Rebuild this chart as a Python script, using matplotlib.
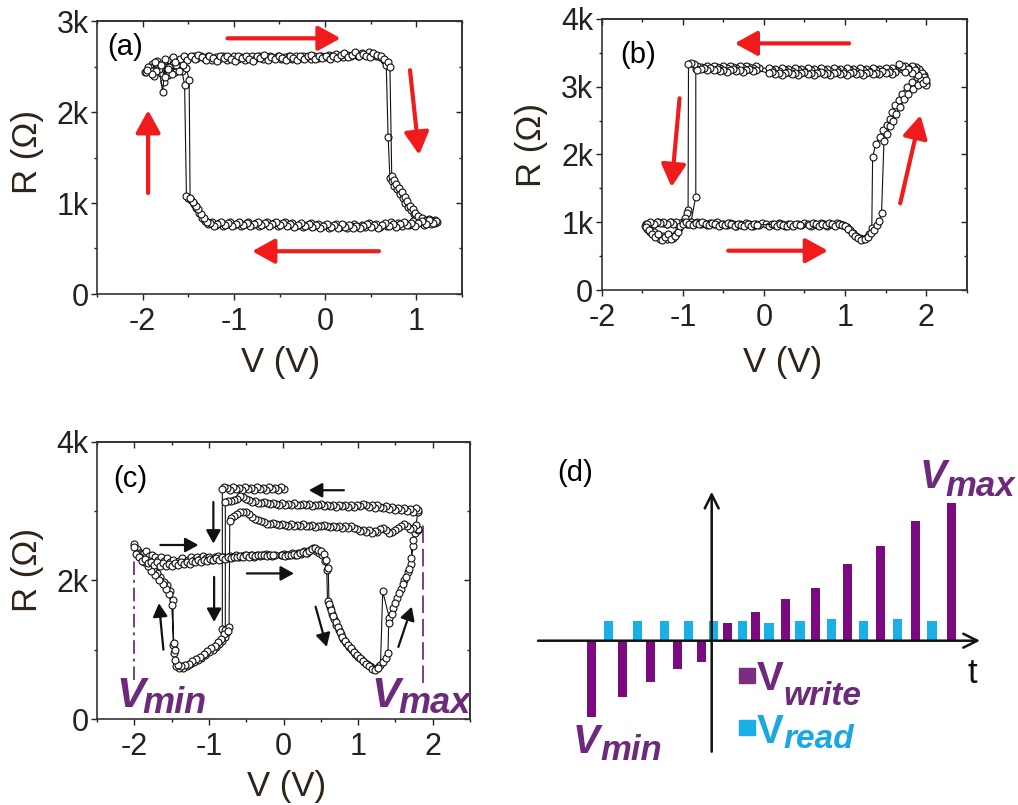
import numpy as np
import matplotlib
matplotlib.use("Agg")
import matplotlib.pyplot as plt
from matplotlib.ticker import MultipleLocator
from matplotlib.patches import Rectangle

W, H = 1018, 805
plt.rcParams['font.family'] = ['Liberation Sans', 'DejaVu Sans']

# ---------------- panel (a) data: V (V), R (kOhm) ----------------
a_cycle1 = [(-1.97,2.44),(-1.93,2.47),(-1.90,2.53),(-1.87,2.40),(-1.84,2.56),(-1.80,2.49),(-1.77,2.33),(-1.74,2.52),
 (-1.70,2.57),(-1.67,2.47),(-1.64,2.53),(-1.60,2.56),(-1.56,2.55),(-1.52,2.58),(-1.48,2.60),(-1.44,2.62),(-1.40,2.59),
 (-1.36,2.61),(-1.32,2.58),(-1.28,2.61),(-1.24,2.57),(-1.20,2.60),(-1.16,2.58),(-1.12,2.61),(-1.08,2.57),(-1.04,2.59),
 (-1.00,2.61),(-0.96,2.58),(-0.92,2.60),(-0.88,2.57),(-0.84,2.60),(-0.80,2.62),(-0.76,2.59),(-0.72,2.61),(-0.68,2.58),
 (-0.64,2.60),(-0.60,2.62),(-0.56,2.59),(-0.52,2.61),(-0.48,2.58),(-0.44,2.60),(-0.40,2.62),(-0.36,2.58),(-0.32,2.61),
 (-0.28,2.59),(-0.24,2.62),(-0.20,2.60),(-0.16,2.58),(-0.12,2.61),(-0.08,2.59),(-0.04,2.62),(0.00,2.60),(0.04,2.63),
 (0.08,2.61),(0.12,2.64),(0.16,2.62),(0.20,2.60),(0.24,2.63),(0.28,2.61),(0.32,2.64),(0.36,2.62),(0.40,2.65),(0.44,2.63),
 (0.48,2.66),(0.52,2.64),(0.56,2.62),(0.60,2.60),(0.64,2.57),(0.67,2.52),
 (0.69,1.73),(0.71,1.28),(0.73,1.24),(0.76,1.19),(0.79,1.15),(0.82,1.10),(0.85,1.05),(0.88,1.00),(0.91,0.96),(0.94,0.92),
 (0.97,0.88),(1.00,0.85),(1.04,0.82),(1.08,0.80),(1.12,0.79),(1.16,0.80),(1.20,0.78),(1.23,0.79),
 (1.20,0.81),(1.16,0.77),(1.12,0.80),(1.08,0.76),(1.04,0.79),(1.00,0.77),(0.96,0.80),(0.92,0.76),(0.88,0.78),(0.84,0.75),
 (0.80,0.78),(0.76,0.76),(0.72,0.79),(0.68,0.75),(0.64,0.77),(0.60,0.74),(0.56,0.77),(0.52,0.75),(0.48,0.78),(0.44,0.74),
 (0.40,0.76),(0.36,0.74),(0.32,0.77),(0.28,0.75),(0.24,0.73),(0.20,0.76),(0.16,0.74),(0.12,0.77),(0.08,0.75),(0.04,0.73),
 (0.00,0.76),(-0.04,0.74),(-0.08,0.77),(-0.12,0.75),(-0.16,0.78),(-0.20,0.76),(-0.24,0.74),(-0.28,0.77),(-0.32,0.75),
 (-0.36,0.78),(-0.40,0.76),(-0.44,0.79),(-0.48,0.77),(-0.52,0.75),(-0.56,0.78),(-0.60,0.76),(-0.64,0.79),(-0.68,0.77),
 (-0.72,0.75),(-0.76,0.78),(-0.80,0.76),(-0.84,0.79),(-0.88,0.77),(-0.92,0.75),(-0.96,0.78),(-1.00,0.76),(-1.04,0.79),
 (-1.08,0.77),(-1.12,0.75),(-1.16,0.78),(-1.20,0.76),(-1.24,0.79),(-1.28,0.77),(-1.32,0.80),
 (-1.35,0.84),(-1.38,0.89),(-1.41,0.94),(-1.44,0.99),(-1.47,1.03),(-1.50,1.06),(-1.52,1.08),
 (-1.54,2.30),(-1.57,2.45),(-1.60,2.50),(-1.64,2.44),(-1.68,2.52),(-1.72,2.41),(-1.76,2.50),(-1.80,2.43),(-1.84,2.53),
 (-1.88,2.46),(-1.92,2.50),(-1.96,2.44)]
a_cycle2 = [(-1.94,2.50),(-1.90,2.45),(-1.86,2.55),(-1.82,2.47),(-1.78,2.22),(-1.75,2.58),(-1.71,2.50),(-1.67,2.60),
 (-1.63,2.52),(-1.59,2.58),(-1.55,2.62),(-1.51,2.57),(-1.47,2.61),(-1.43,2.58),(-1.39,2.63),(-1.35,2.60),(-1.31,2.57),
 (-1.27,2.62),(-1.23,2.59),(-1.19,2.56),(-1.15,2.61),(-1.11,2.59),(-1.07,2.62),(-1.03,2.58),(-0.99,2.56),(-0.95,2.61),
 (-0.91,2.59),(-0.87,2.62),(-0.83,2.58),(-0.79,2.56),(-0.75,2.61),(-0.71,2.59),(-0.67,2.63),(-0.63,2.57),(-0.59,2.60),
 (-0.55,2.58),(-0.51,2.62),(-0.47,2.59),(-0.43,2.57),(-0.39,2.61),(-0.35,2.59),(-0.31,2.57),(-0.27,2.62),(-0.23,2.58),
 (-0.19,2.61),(-0.15,2.63),(-0.11,2.58),(-0.07,2.61),(-0.03,2.59),(0.01,2.62),(0.05,2.58),(0.09,2.62),(0.13,2.59),
 (0.17,2.63),(0.21,2.65),(0.25,2.60),(0.29,2.63),(0.33,2.66),(0.37,2.61),(0.41,2.64),(0.45,2.62),(0.49,2.60),(0.53,2.65),
 (0.57,2.63),(0.61,2.61),(0.65,2.58),(0.69,2.55),(0.71,2.50),
 (0.73,1.30),(0.75,1.25),(0.78,1.21),(0.81,1.17),(0.84,1.12),(0.87,1.07),(0.90,1.02),(0.93,0.97),(0.96,0.93),(0.99,0.89),
 (1.02,0.86),(1.06,0.83),(1.10,0.81),(1.14,0.82),(1.18,0.80),(1.22,0.80),
 (1.18,0.78),(1.14,0.81),(1.10,0.77),(1.06,0.80),(1.02,0.78),(0.98,0.75),(0.94,0.78),(0.90,0.76),(0.86,0.79),(0.82,0.77),
 (0.78,0.74),(0.74,0.77),(0.70,0.75),(0.66,0.78),(0.62,0.76),(0.58,0.73),(0.54,0.76),(0.50,0.74),(0.46,0.77),(0.42,0.75),
 (0.38,0.72),(0.34,0.75),(0.30,0.73),(0.26,0.76),(0.22,0.74),(0.18,0.77),(0.14,0.73),(0.10,0.76),(0.06,0.74),(0.02,0.77),
 (-0.02,0.75),(-0.06,0.73),(-0.10,0.76),(-0.14,0.74),(-0.18,0.77),(-0.22,0.75),(-0.26,0.78),(-0.30,0.76),(-0.34,0.74),
 (-0.38,0.77),(-0.42,0.75),(-0.46,0.78),(-0.50,0.76),(-0.54,0.79),(-0.58,0.77),(-0.62,0.75),(-0.66,0.78),(-0.70,0.76),
 (-0.74,0.79),(-0.78,0.77),(-0.82,0.75),(-0.86,0.78),(-0.90,0.76),(-0.94,0.79),(-0.98,0.77),(-1.02,0.75),(-1.06,0.78),
 (-1.10,0.76),(-1.14,0.79),(-1.18,0.77),(-1.22,0.75),(-1.26,0.78),
 (-1.30,0.79),(-1.33,0.83),(-1.36,0.88),(-1.39,0.93),(-1.42,0.97),(-1.45,1.01),(-1.48,1.06),
 (-1.49,2.35),(-1.52,2.48),(-1.56,2.52),(-1.60,2.45),(-1.64,2.55),(-1.68,2.42),(-1.72,2.47),(-1.76,2.38),(-1.80,2.52),
 (-1.85,2.45),(-1.90,2.42),(-1.95,2.46)]

# ---------------- panel (b) data ----------------
b_cycle1 = [(2.00,3.05),(1.99,3.12),(1.97,3.18),(1.94,3.22),(1.91,3.26),(1.88,3.29),(1.85,3.27),(1.82,3.31),(1.78,3.28),
 (1.74,3.30),(1.70,3.26),(1.66,3.29),(1.62,3.25),(1.58,3.28),(1.54,3.24),(1.50,3.27),(1.46,3.23),(1.42,3.26),(1.38,3.24),
 (1.34,3.27),(1.30,3.23),(1.26,3.26),(1.22,3.24),(1.18,3.27),(1.14,3.23),(1.10,3.26),(1.06,3.24),(1.02,3.27),(0.98,3.23),
 (0.94,3.26),(0.90,3.24),(0.86,3.27),(0.82,3.23),(0.78,3.26),(0.74,3.24),(0.70,3.27),(0.66,3.23),(0.62,3.26),(0.58,3.24),
 (0.54,3.27),(0.50,3.23),(0.46,3.26),(0.42,3.24),(0.38,3.27),(0.34,3.23),(0.30,3.26),(0.26,3.24),(0.22,3.27),(0.18,3.23),
 (0.14,3.26),(0.10,3.24),(0.06,3.27),(-0.06,3.28),(-0.10,3.30),(-0.14,3.27),(-0.18,3.29),(-0.22,3.31),(-0.26,3.28),
 (-0.30,3.30),(-0.34,3.27),(-0.38,3.29),(-0.42,3.31),(-0.46,3.28),(-0.50,3.30),(-0.54,3.27),(-0.58,3.29),(-0.62,3.31),
 (-0.66,3.28),(-0.70,3.30),(-0.74,3.27),(-0.78,3.29),(-0.82,3.31),(-0.84,3.26),
 (-0.84,1.38),(-0.90,1.00),(-0.95,0.98),(-1.00,1.00),(-1.05,0.97),(-1.10,0.99),(-1.15,1.00),(-1.20,0.97),(-1.25,0.99),
 (-1.30,1.00),(-1.35,0.97),(-1.40,0.99),(-1.45,0.98),(-1.47,0.95),(-1.44,0.90),(-1.40,0.85),(-1.36,0.86),(-1.32,0.80),
 (-1.28,0.76),(-1.24,0.79),(-1.20,0.75),(-1.16,0.80),(-1.12,0.77),(-1.08,0.83),(-1.05,0.92),(-1.02,0.99),
 (-0.98,1.00),(-0.94,0.97),(-0.90,1.00),(-0.86,0.98),(-0.82,1.01),(-0.78,0.97),(-0.74,0.99),(-0.70,0.96),(-0.66,0.99),
 (-0.62,0.97),(-0.58,1.00),(-0.54,0.96),(-0.50,0.98),(-0.46,0.96),(-0.42,0.99),(-0.38,0.97),(-0.34,0.95),(-0.30,0.98),
 (-0.26,0.96),(-0.22,0.99),(-0.18,0.97),(-0.14,0.95),(-0.10,0.98),(-0.06,0.96),(-0.02,0.99),(0.02,0.97),(0.06,0.95),
 (0.10,0.98),(0.14,0.96),(0.18,0.99),(0.22,0.97),(0.26,0.95),(0.30,0.98),(0.34,0.96),(0.42,0.98),(0.46,0.96),(0.50,0.99),
 (0.54,0.97),(0.58,0.95),(0.62,0.98),(0.66,0.96),(0.70,0.99),(0.74,0.97),(0.78,0.95),(0.82,0.98),(0.86,0.96),(0.90,0.99),
 (0.94,0.97),(0.98,0.96),(1.02,0.93),(1.06,0.88),(1.10,0.84),(1.14,0.80),(1.18,0.77),(1.22,0.75),(1.26,0.77),(1.30,0.82),
 (1.33,0.92),
 (1.34,1.96),(1.38,2.16),(1.43,2.26),(1.47,2.36),(1.52,2.43),(1.56,2.53),(1.58,2.63),(1.61,2.73),(1.66,2.80),(1.70,2.90),
 (1.76,3.00),(1.82,3.07),(1.89,3.15),(1.95,3.20),(1.99,3.10),(2.00,3.02)]
b_cycle2 = [(1.97,3.15),(1.94,3.10),(1.90,3.18),(1.86,3.24),(1.82,3.20),(1.78,3.26),(1.74,3.22),(1.70,3.31),(1.66,3.34),
 (1.62,3.22),(1.58,3.19),(1.54,3.22),(1.50,3.20),(1.46,3.23),(1.42,3.19),(1.38,3.21),(1.34,3.19),(1.30,3.22),(1.26,3.20),
 (1.22,3.18),(1.18,3.21),(1.14,3.19),(1.10,3.22),(1.06,3.20),(1.02,3.18),(0.98,3.21),(0.94,3.19),(0.90,3.22),(0.86,3.20),
 (0.82,3.18),(0.78,3.21),(0.74,3.19),(0.70,3.22),(0.66,3.20),(0.62,3.18),(0.58,3.21),(0.54,3.19),(0.50,3.22),(0.46,3.20),
 (0.42,3.18),(0.38,3.21),(0.34,3.19),(0.30,3.22),(0.26,3.20),(0.22,3.18),(0.18,3.21),(0.14,3.19),(0.10,3.22),(0.06,3.20),
 (-0.10,3.25),(-0.14,3.23),(-0.18,3.26),(-0.22,3.24),(-0.26,3.22),(-0.30,3.25),(-0.34,3.23),(-0.38,3.26),(-0.42,3.24),
 (-0.46,3.22),(-0.50,3.25),(-0.54,3.23),(-0.58,3.26),(-0.62,3.24),(-0.66,3.27),(-0.70,3.25),(-0.74,3.28),(-0.78,3.26),
 (-0.82,3.25),(-0.86,3.33),(-0.90,3.35),(-0.93,3.34),
 (-0.935,1.18),(-0.95,1.13),(-0.97,1.06),(-1.00,1.01),(-1.04,0.99),(-1.08,1.01),(-1.12,0.98),(-1.16,1.00),(-1.20,0.98),
 (-1.24,1.01),(-1.28,0.99),(-1.32,1.01),(-1.36,0.98),(-1.40,1.00),(-1.44,0.98),(-1.46,0.93),(-1.42,0.88),(-1.38,0.82),
 (-1.34,0.78),(-1.30,0.82),(-1.26,0.74),(-1.22,0.78),(-1.18,0.82),(-1.14,0.76),(-1.10,0.80),(-1.06,0.86),(-1.03,0.95),
 (-1.00,0.98),(-0.96,1.00),(-0.92,0.98),(-0.88,0.96),(-0.84,0.99),(-0.80,0.97),(-0.76,1.00),(-0.72,0.98),(-0.68,0.96),
 (-0.64,0.99),(-0.60,0.97),(-0.56,0.95),(-0.52,0.98),(-0.48,0.96),(-0.44,0.99),(-0.40,0.97),(-0.36,0.95),(-0.32,0.98),
 (-0.28,0.96),(-0.24,0.94),(-0.20,0.97),(-0.16,0.95),(-0.12,0.98),(-0.08,0.96),(0.12,0.97),(0.16,0.95),(0.20,0.98),
 (0.24,0.96),(0.28,0.94),(0.32,0.97),(0.36,0.95),(0.40,0.98),(0.44,0.96),(0.56,0.96),(0.60,0.99),(0.64,0.97),(0.68,0.95),
 (0.72,0.98),(0.76,0.96),(0.80,0.99),(0.84,0.97),(0.88,0.95),(0.92,0.98),(0.96,0.96),(1.00,0.94),(1.04,0.90),(1.08,0.84),
 (1.12,0.80),(1.16,0.77),(1.20,0.74),(1.24,0.75),(1.28,0.78),(1.32,0.84),(1.36,0.89),(1.39,0.96),(1.42,1.02),(1.45,1.13),
 (1.48,2.20),(1.52,2.30),(1.55,2.42),(1.59,2.50),(1.63,2.60),(1.68,2.70),(1.73,2.82),(1.78,2.90),(1.84,2.96),(1.90,3.02),
 (1.96,3.06),(2.00,3.10)]

# ---------------- panel (c) data ----------------
c_top1 = [(0.00,3.32),(-0.04,3.34),(-0.08,3.31),(-0.12,3.33),(-0.16,3.32),(-0.20,3.34),(-0.24,3.31),(-0.28,3.33),
 (-0.32,3.32),(-0.36,3.34),(-0.40,3.31),(-0.44,3.33),(-0.48,3.32),(-0.52,3.34),(-0.56,3.31),(-0.60,3.33),(-0.64,3.32),
 (-0.68,3.34),(-0.72,3.31),(-0.76,3.33),(-0.80,3.34),(-0.82,3.32)]
c_downL1 = [(-0.82,1.30),(-0.76,1.25),(-0.78,1.18),(-0.82,1.13),(-0.86,1.08),(-0.90,1.04),(-0.95,1.00),(-1.00,0.96),
 (-1.05,0.92),(-1.10,0.88),(-1.15,0.85),(-1.20,0.82),(-1.25,0.79),(-1.30,0.76),(-1.35,0.74),(-1.40,0.73),(-1.44,0.77),
 (-1.47,0.95),(-1.48,1.07)]
c_upL1 = [(-1.48,1.72),(-1.52,1.85),(-1.56,1.93),(-1.60,1.98),(-1.65,2.05),(-1.70,2.10),(-1.75,2.16),(-1.80,2.22),
 (-1.85,2.29),(-1.90,2.35),(-1.95,2.42),(-2.00,2.52)]
c_mid1 = [(-1.96,2.45),(-1.92,2.40),(-1.88,2.38),(-1.84,2.42),(-1.80,2.35),(-1.76,2.37),(-1.72,2.33),(-1.68,2.30),
 (-1.64,2.34),(-1.60,2.28),(-1.56,2.32),(-1.52,2.26),(-1.48,2.30),(-1.44,2.24),(-1.40,2.28),(-1.36,2.32),(-1.32,2.26),
 (-1.28,2.30),(-1.24,2.34),(-1.20,2.29),(-1.16,2.33),(-1.12,2.31),(-1.08,2.35),(-1.04,2.32),(-1.00,2.34),(-0.96,2.30),
 (-0.92,2.33),(-0.88,2.35),(-0.84,2.31),(-0.80,2.34),(-0.76,2.32),(-0.72,2.35),(-0.68,2.33),(-0.64,2.36),(-0.60,2.34),
 (-0.56,2.35),(-0.52,2.37),(-0.48,2.35),(-0.44,2.36),(-0.40,2.34),(-0.36,2.37),(-0.32,2.35),(-0.28,2.36),(-0.24,2.38),
 (-0.20,2.36),(-0.16,2.35),(-0.12,2.37),(-0.04,2.36),(0.00,2.38),(0.04,2.36),(0.08,2.37),(0.12,2.39),(0.16,2.37),
 (0.20,2.40),(0.24,2.38),(0.28,2.42),(0.32,2.40),(0.36,2.44),(0.40,2.46),(0.44,2.43),(0.48,2.40),(0.52,2.36),(0.55,2.28),
 (0.58,2.15)]
c_downR1 = [(0.59,1.70),(0.62,1.62),(0.65,1.52),(0.68,1.44),(0.71,1.36),(0.74,1.29),(0.77,1.22),(0.80,1.16),(0.84,1.10),
 (0.88,1.04),(0.92,0.99),(0.96,0.94),(1.00,0.90),(1.04,0.86),(1.08,0.82),(1.12,0.79),(1.16,0.76),(1.20,0.74),(1.24,0.72),
 (1.28,0.76)]
c_upR1 = [(1.30,0.78),(1.33,1.84),(1.42,1.45),(1.47,1.60),(1.52,1.74),(1.57,1.87),(1.62,2.00),(1.67,2.12),(1.71,2.24),
 (1.73,2.50),(1.76,2.68),(1.80,2.98)]
c_top2 = [(1.80,3.02),(1.77,3.05),(1.74,2.99),(1.70,3.03),(1.66,3.00),(1.62,3.04),(1.58,3.01),(1.54,3.05),(1.50,3.02),
 (1.46,3.06),(1.42,3.03),(1.38,3.07),(1.34,3.04),(1.30,3.06),(1.26,3.08),(1.22,3.05),(1.18,3.09),(1.14,3.06),(1.10,3.08),
 (1.06,3.10),(1.02,3.07),(0.98,3.09),(0.94,3.06),(0.90,3.08),(0.86,3.06),(0.82,3.09),(0.78,3.07),(0.74,3.09),(0.70,3.06),
 (0.66,3.08),(0.62,3.07),(0.58,3.09),(0.54,3.07),(0.50,3.10),(0.46,3.08),(0.42,3.09),(0.38,3.07),(0.34,3.10),(0.30,3.08),
 (0.26,3.10),(0.22,3.08),(0.18,3.09),(0.14,3.11),(0.10,3.09),(0.06,3.10),(0.02,3.08),(-0.02,3.11),(-0.06,3.09),
 (-0.10,3.10),(-0.14,3.12),(-0.18,3.10),(-0.22,3.11),(-0.26,3.13),(-0.30,3.11),(-0.34,3.12),(-0.38,3.14),(-0.42,3.13),
 (-0.46,3.16),(-0.50,3.18),(-0.54,3.20),(-0.58,3.21),(-0.62,3.18),(-0.66,3.16),(-0.70,3.14),(-0.74,3.15),(-0.78,3.13)]
c_downL2 = [(-0.78,1.28),(-0.80,1.22),(-0.84,1.16),(-0.88,1.11),(-0.92,1.06),(-0.97,1.02),(-1.02,0.98),(-1.07,0.94),
 (-1.12,0.90),(-1.17,0.86),(-1.22,0.83),(-1.27,0.80),(-1.32,0.78),(-1.37,0.76),(-1.42,0.78),(-1.45,0.85),(-1.46,1.00),
 (-1.47,1.10)]
c_upL2 = [(-1.50,1.65),(-1.54,1.80),(-1.58,1.88),(-1.62,1.95),(-1.67,2.01),(-1.72,2.07),(-1.77,2.13),(-1.82,2.20),
 (-1.87,2.26),(-1.92,2.33),(-1.97,2.40),(-2.00,2.48)]
c_mid2 = [(-1.98,2.38),(-1.94,2.33),(-1.90,2.28),(-1.86,2.31),(-1.82,2.25),(-1.78,2.27),(-1.74,2.22),(-1.70,2.26),
 (-1.66,2.21),(-1.62,2.25),(-1.58,2.20),(-1.54,2.24),(-1.50,2.21),(-1.46,2.25),(-1.42,2.22),(-1.38,2.26),(-1.34,2.23),
 (-1.30,2.27),(-1.26,2.24),(-1.22,2.28),(-1.18,2.26),(-1.14,2.29),(-1.10,2.27),(-1.06,2.30),(-1.02,2.28),(-0.98,2.31),
 (-0.94,2.29),(-0.90,2.32),(-0.86,2.30),(-0.82,2.33),(-0.78,2.31),(-0.74,2.33),(-0.70,2.32),(-0.66,2.34),(-0.62,2.33),
 (-0.58,2.35),(-0.54,2.34),(-0.50,2.36),(-0.46,2.34),(-0.42,2.36),(-0.38,2.35),(-0.34,2.37),(-0.30,2.36),(-0.26,2.37),
 (-0.22,2.35),(-0.18,2.37),(-0.14,2.36),(-0.02,2.37),(0.02,2.35),(0.06,2.37),(0.10,2.36),(0.14,2.38),(0.18,2.37),
 (0.22,2.39),(0.26,2.41),(0.30,2.39),(0.34,2.42),(0.38,2.45),(0.42,2.47),(0.46,2.44),(0.50,2.42),(0.54,2.38),(0.57,2.30),
 (0.60,2.18)]
c_downR2 = [(0.61,1.66),(0.64,1.57),(0.67,1.48),(0.70,1.40),(0.73,1.33),(0.76,1.26),(0.79,1.19),(0.83,1.13),(0.87,1.07),
 (0.91,1.02),(0.95,0.97),(0.99,0.92),(1.03,0.88),(1.07,0.84),(1.11,0.80),(1.15,0.77),(1.19,0.72),(1.23,0.70),(1.27,0.73)]
c_upR2 = [(1.33,0.82),(1.37,0.88),(1.40,0.95),(1.41,1.38),(1.45,1.52),(1.50,1.68),(1.55,1.82),(1.60,1.95),(1.64,2.05),
 (1.68,2.16),(1.71,2.32),(1.74,2.58),(1.80,2.72)]
c_top3 = [(1.80,2.74),(1.78,2.80),(1.74,2.76),(1.70,2.74),(1.66,2.79),(1.62,2.81),(1.58,2.78),(1.54,2.76),(1.50,2.73),
 (1.46,2.70),(1.42,2.68),(1.38,2.72),(1.34,2.76),(1.30,2.74),(1.26,2.70),(1.22,2.71),(1.18,2.69),(1.14,2.72),(1.10,2.70),
 (1.06,2.73),(1.02,2.71),(0.98,2.74),(0.94,2.76),(0.90,2.78),(0.86,2.76),(0.82,2.78),(0.78,2.76),(0.74,2.79),(0.70,2.77),
 (0.66,2.79),(0.62,2.77),(0.58,2.78),(0.54,2.80),(0.50,2.78),(0.46,2.79),(0.42,2.77),(0.38,2.80),(0.34,2.78),(0.30,2.79),
 (0.26,2.81),(0.22,2.79),(0.18,2.80),(0.14,2.78),(0.10,2.81),(0.06,2.79),(0.02,2.80),(-0.02,2.82),(-0.06,2.80),
 (-0.10,2.81),(-0.14,2.83),(-0.18,2.81),(-0.22,2.82),(-0.26,2.84),(-0.30,2.85),(-0.34,2.87),(-0.38,2.89),(-0.42,2.92),
 (-0.46,2.95),(-0.50,2.98),(-0.54,2.99),(-0.58,2.98),(-0.62,2.96),(-0.66,2.93),(-0.70,2.90),(-0.72,2.86)]
c_downL3 = [(-0.73,1.32),(-0.75,1.27)]
c_vmin = -2.0
c_vmin_span = (0.56, 2.52)
c_vmax = 1.87
c_vmax_span = (0.52, 2.86)

# ---------------- panel (d) data (arbitrary units) ----------------
d_write_t = [-3.60, -2.68, -1.84, -1.04, -0.31, 0.48, 1.32, 2.21, 3.11, 4.07, 5.07, 6.10, 7.18]
d_write_v = [-2.30, -1.70, -1.23, -0.86, -0.63, 0.54, 0.85, 1.24, 1.58, 2.30, 2.83, 3.60, 4.12]
d_read_t = [-3.10, -2.22, -1.42, -0.70, 0.06, 0.93, 1.72, 2.65, 3.60, 4.55, 5.58, 6.61]
d_read_v = [0.59, 0.59, 0.59, 0.59, 0.59, 0.59, 0.54, 0.59, 0.64, 0.59, 0.64, 0.59]

PURPLE_BAR = '#7b0a80'
CYAN_BAR = '#19b0ea'
PURPLE_TXT = '#6d2a7a'
CYAN_TXT = '#1aa8e4'
RED = '#f21b1b'
LABEL_C = '#2e2419'
TICK_FS = 22
LABEL_FS = 25
PANEL_FS = 21

fig = plt.figure(figsize=(W / 100, H / 100), dpi=100)


def px_ax(l, t, r, b):
    return fig.add_axes([l / W, 1 - b / H, (r - l) / W, (b - t) / H])


def ftext(x, y, s, **kw):
    return fig.text(x / W, 1 - y / H, s, **kw)


def style(ax, xlim, ylim, xt, xtl, yt, ytl, xminor, yminor):
    ax.set_xlim(*xlim)
    ax.set_ylim(*ylim)
    ax.set_xticks(xt)
    ax.set_xticklabels(xtl)
    ax.set_yticks(yt)
    ax.set_yticklabels(ytl)
    ax.xaxis.set_minor_locator(MultipleLocator(xminor))
    ax.yaxis.set_minor_locator(MultipleLocator(yminor))
    ax.tick_params(which='major', direction='out', length=4, width=1.0, labelsize=TICK_FS, colors='#222222')
    ax.tick_params(axis='x', which='major', pad=5)
    ax.tick_params(axis='y', which='major', pad=2)
    ax.tick_params(which='minor', direction='out', length=2.5, width=1.0, colors='#222222')
    for s in ax.spines.values():
        s.set_linewidth(1.2)
        s.set_color('#333333')
    sx = ax.secondary_xaxis('top')
    sx.set_xticks(xt)
    sx.set_xticklabels([])
    sx.xaxis.set_minor_locator(MultipleLocator(xminor))
    sx.tick_params(which='major', direction='in', length=4, width=1.0, colors='#222222')
    sx.tick_params(which='minor', direction='in', length=2.5, width=1.0, colors='#222222')
    sx.spines['top'].set_linewidth(1.2)
    sx.spines['top'].set_color('#333333')
    sy = ax.secondary_yaxis('right')
    sy.set_yticks(yt)
    sy.set_yticklabels([])
    sy.yaxis.set_minor_locator(MultipleLocator(yminor))
    sy.tick_params(which='major', direction='in', length=4, width=1.0, colors='#222222')
    sy.tick_params(which='minor', direction='in', length=2.5, width=1.0, colors='#222222')
    sy.spines['right'].set_linewidth(1.2)
    sy.spines['right'].set_color('#333333')


def loop(ax, pts):
    arr = np.array(pts)
    ax.plot(arr[:, 0], arr[:, 1], '-', color='#111111', lw=0.8, marker='o', ms=5.0,
            mfc='white', mec='#111111', mew=0.8, zorder=3)


def arrow(ax, tail, tip, color, lw, ms):
    ax.annotate('', xy=tip, xytext=tail,
                arrowprops=dict(arrowstyle='-|>,head_length=0.4,head_width=0.22', color=color,
                                lw=lw, mutation_scale=ms, shrinkA=0, shrinkB=0), zorder=5)


# ---------------- (a) ----------------
axa = px_ax(97, 21, 462, 294)
style(axa, (-2.5, 1.5), (0, 3), [-2, -1, 0, 1], ['-2', '-1', '0', '1'],
      [0, 1, 2, 3], ['0', '1k', '2k', '3k'], 0.5, 0.5)
loop(axa, a_cycle1)
loop(axa, a_cycle2)
arrow(axa, (-1.07, 2.81), (0.17, 2.81), RED, 3.0, 34)
arrow(axa, (0.93, 2.46), (1.03, 1.53), RED, 3.0, 34)
arrow(axa, (0.59, 0.47), (-0.80, 0.47), RED, 3.0, 34)
arrow(axa, (-1.94, 1.11), (-1.94, 2.02), RED, 3.0, 34)
ftext(107, 55, '(a)', fontsize=PANEL_FS, ha='left', va='baseline')
ftext(281, 362, 'V (V)', fontsize=LABEL_FS, ha='center', va='center', color=LABEL_C)
ftext(28, 152, 'R (Ω)', fontsize=LABEL_FS, ha='center', va='center', rotation=90, color=LABEL_C)

# ---------------- (b) ----------------
axb = px_ax(601.7, 19, 966.7, 290)
style(axb, (-2, 2.5), (0, 4), [-2, -1, 0, 1, 2], ['-2', '-1', '0', '1', '2'],
      [0, 1, 2, 3, 4], ['0', '1k', '2k', '3k', '4k'], 0.5, 0.5)
loop(axb, b_cycle1)
loop(axb, b_cycle2)
arrow(axb, (1.05, 3.64), (-0.36, 3.64), RED, 3.0, 34)
arrow(axb, (-1.04, 2.83), (-1.14, 1.52), RED, 3.0, 34)
arrow(axb, (-0.44, 0.58), (0.79, 0.58), RED, 3.0, 34)
arrow(axb, (1.68, 1.28), (1.93, 2.58), RED, 3.0, 34)
ftext(620, 63, '(b)', fontsize=PANEL_FS, ha='left', va='baseline')
ftext(783, 362, 'V (V)', fontsize=LABEL_FS, ha='center', va='center', color=LABEL_C)
ftext(532, 145, 'R (Ω)', fontsize=LABEL_FS, ha='center', va='center', rotation=90, color=LABEL_C)

# ---------------- (c) ----------------
axc = px_ax(97, 441.7, 470, 719)
style(axc, (-2.5, 2.5), (0, 4), [-2, -1, 0, 1, 2], ['-2', '-1', '0', '1', '2'],
      [0, 2, 4], ['0', '2k', '4k'], 0.5, 1.0)
c_path = (c_top1 + c_downL1 + c_upL1 + c_mid1 + c_downR1 + c_upR1 + c_top2 + c_downL2 + c_upL2 +
          c_mid2 + c_downR2 + c_upR2 + c_top3 + c_downL3)
loop(axc, c_path)
axc.plot([c_vmin, c_vmin], c_vmin_span, color='#7d3d8c', lw=1.4, ls=(0, (7, 2.5, 1.5, 2.5)), zorder=2)
axc.plot([c_vmax, c_vmax], c_vmax_span, color='#7d3d8c', lw=1.4, ls=(0, (9, 3)), zorder=2)
for tail, tip in [((0.81, 3.30), (0.34, 3.30)), ((-0.94, 3.13), (-0.94, 2.53)),
                  ((-0.93, 2.05), (-0.93, 1.40)), ((-1.65, 2.51), (-1.14, 2.51)),
                  ((-0.49, 2.10), (0.14, 2.10)), ((-1.61, 1.00), (-1.67, 1.67)),
                  ((0.43, 1.62), (0.58, 1.04)), ((1.54, 1.04), (1.72, 1.62))]:
    arrow(axc, tail, tip, '#111111', 1.6, 20)
ftext(113, 487, '(c)', fontsize=PANEL_FS, ha='left', va='baseline')
ftext(287, 786, 'V (V)', fontsize=LABEL_FS, ha='center', va='center', color=LABEL_C)
ftext(28, 570, 'R (Ω)', fontsize=LABEL_FS, ha='center', va='center', rotation=90, color=LABEL_C)
ftext(116, 707, 'V', fontsize=31, fontweight='bold', fontstyle='italic', color=PURPLE_TXT, ha='left', va='baseline')
ftext(142, 713, 'min', fontsize=26, fontweight='bold', fontstyle='italic', color=PURPLE_TXT, ha='left', va='baseline')
ftext(371, 707, 'V', fontsize=31, fontweight='bold', fontstyle='italic', color=PURPLE_TXT, ha='left', va='baseline')
ftext(398, 713, 'max', fontsize=26, fontweight='bold', fontstyle='italic', color=PURPLE_TXT, ha='left', va='baseline')

# ---------------- (d) ----------------
U = 33.33
axd = px_ax(520, 440, 1015, 800)
axd.set_xlim((520 - 711.7) / U, (1015 - 711.7) / U)
axd.set_ylim((640.7 - 800) / U, (640.7 - 440) / U)
axd.axis('off')
axd.bar(d_write_t, d_write_v, width=0.27, color=PURPLE_BAR, zorder=2)
axd.bar(d_read_t, d_read_v, width=0.28, color=CYAN_BAR, zorder=2)
axd.annotate('', xy=(8.05, 0), xytext=(-5.21, 0),
             arrowprops=dict(arrowstyle='->,head_length=0.5,head_width=0.25', color='#111111', lw=1.8,
                             mutation_scale=20, shrinkA=0, shrinkB=0), zorder=3)
axd.annotate('', xy=(0, 4.47), xytext=(0, -3.33),
             arrowprops=dict(arrowstyle='->,head_length=0.5,head_width=0.25', color='#111111', lw=1.8,
                             mutation_scale=20, shrinkA=0, shrinkB=0), zorder=3)
axd.add_patch(Rectangle(((739 - 711.7) / U, (640.7 - 683) / U), 16 / U, 15 / U, color='#7a2e80', zorder=3))
axd.add_patch(Rectangle(((739 - 711.7) / U, (640.7 - 735) / U), 16 / U, 15 / U, color=CYAN_BAR, zorder=3))
ftext(557, 481, '(d)', fontsize=PANEL_FS, ha='left', va='baseline')
ftext(967, 683, 't', fontsize=25, ha='left', va='baseline', color='#111111')
ftext(757, 690, 'V', fontsize=29, fontweight='bold', color=PURPLE_TXT, ha='left', va='baseline')
ftext(783, 705, 'write', fontsize=24, fontweight='bold', fontstyle='italic', color=PURPLE_TXT, ha='left', va='baseline')
ftext(757, 743, 'V', fontsize=29, fontweight='bold', color=CYAN_TXT, ha='left', va='baseline')
ftext(783, 748, 'read', fontsize=24, fontweight='bold', fontstyle='italic', color=CYAN_TXT, ha='left', va='baseline')
ftext(573, 753, 'V', fontsize=29, fontweight='bold', fontstyle='italic', color=PURPLE_TXT, ha='left', va='baseline')
ftext(600, 760, 'min', fontsize=25, fontweight='bold', fontstyle='italic', color=PURPLE_TXT, ha='left', va='baseline')
ftext(920, 488, 'V', fontsize=29, fontweight='bold', fontstyle='italic', color=PURPLE_TXT, ha='left', va='baseline')
ftext(945, 496, 'max', fontsize=25, fontweight='bold', fontstyle='italic', color=PURPLE_TXT, ha='left', va='baseline')

fig.savefig('out.png', dpi=100)
